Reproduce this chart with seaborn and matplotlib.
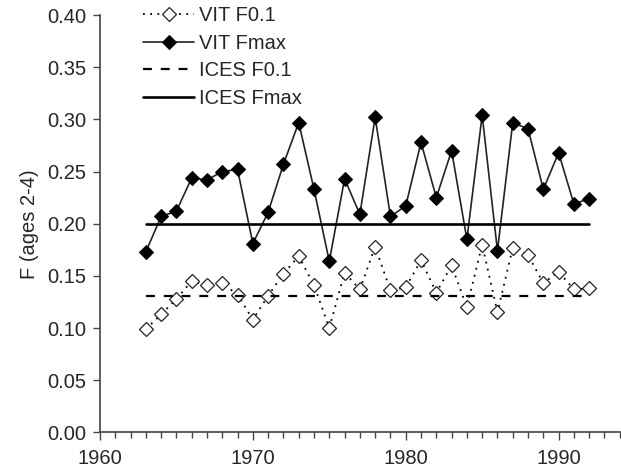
import numpy as np
import pandas as pd
import matplotlib
matplotlib.use('Agg')
import matplotlib.pyplot as plt
from matplotlib.ticker import StrMethodFormatter
import seaborn as sns

# values
years = list(range(1963, 1993))
vit_f01 = [0.099, 0.113, 0.128, 0.145, 0.141, 0.143, 0.132, 0.108, 0.131, 0.152,
           0.169, 0.141, 0.100, 0.153, 0.137, 0.178, 0.136, 0.139, 0.165, 0.134,
           0.160, 0.120, 0.180, 0.115, 0.177, 0.170, 0.143, 0.154, 0.137, 0.138]
vit_fmax = [0.173, 0.207, 0.212, 0.244, 0.242, 0.250, 0.252, 0.181, 0.211, 0.257,
            0.297, 0.233, 0.164, 0.243, 0.209, 0.302, 0.207, 0.217, 0.278, 0.225,
            0.270, 0.185, 0.304, 0.174, 0.297, 0.291, 0.233, 0.268, 0.219, 0.224]
ices_f01 = 0.131
ices_fmax = 0.20

df = pd.DataFrame({'year': years, 'VIT F0.1': vit_f01, 'VIT Fmax': vit_fmax})
df['ICES F0.1'] = ices_f01
df['ICES Fmax'] = ices_fmax

sns.set_style('ticks')
plt.rcParams['font.family'] = ['Liberation Sans', 'DejaVu Sans']

fig = plt.figure(figsize=(6.21, 4.72), dpi=100)
ax = fig.add_axes([0.161, 0.084, 0.837, 0.884])

sns.lineplot(x='year', y='VIT F0.1', data=df, ax=ax, color='black', linestyle=(0, (1, 3)),
             lw=1.3, marker='D', markersize=7, markerfacecolor='white',
             markeredgecolor='#222222', markeredgewidth=0.9, label='VIT F0.1')
sns.lineplot(x='year', y='VIT Fmax', data=df, ax=ax, color='#222222', lw=1.2,
             marker='D', markersize=7, markerfacecolor='black',
             markeredgecolor='black', label='VIT Fmax')
sns.lineplot(x='year', y='ICES F0.1', data=df, ax=ax, color='black', lw=1.6,
             linestyle=(0, (4, 4)), label='ICES F0.1')
sns.lineplot(x='year', y='ICES Fmax', data=df, ax=ax, color='black', lw=1.9,
             label='ICES Fmax')

ax.set_xlim(1960, 1994)
ax.set_ylim(0, 0.40)
ax.set_xticks([1960, 1970, 1980, 1990])
ax.set_xticks(range(1960, 1995), minor=True)
ax.set_yticks(np.arange(0, 0.401, 0.05))
ax.yaxis.set_major_formatter(StrMethodFormatter('{x:.2f}'))
ax.tick_params(axis='both', labelsize=14.5, color='#444444', width=1)
ax.tick_params(axis='x', which='major', length=6, pad=6)
ax.tick_params(axis='x', which='minor', length=4, width=1, color='#444444')
ax.tick_params(axis='y', length=5, pad=5)
ax.set_xlabel('')
ax.set_ylabel('F (ages 2-4)', fontsize=14.5, labelpad=6)

sns.despine(ax=ax)
for sp in ['left', 'bottom']:
    ax.spines[sp].set_color('#444444')
    ax.spines[sp].set_linewidth(1.2)

leg = ax.legend(loc='upper left', bbox_to_anchor=(0.068, 1.04), frameon=False,
                fontsize=14.5, handlelength=2.5, handletextpad=0.25, labelspacing=0.42,
                borderaxespad=0)

fig.savefig('out.png', dpi=100)
